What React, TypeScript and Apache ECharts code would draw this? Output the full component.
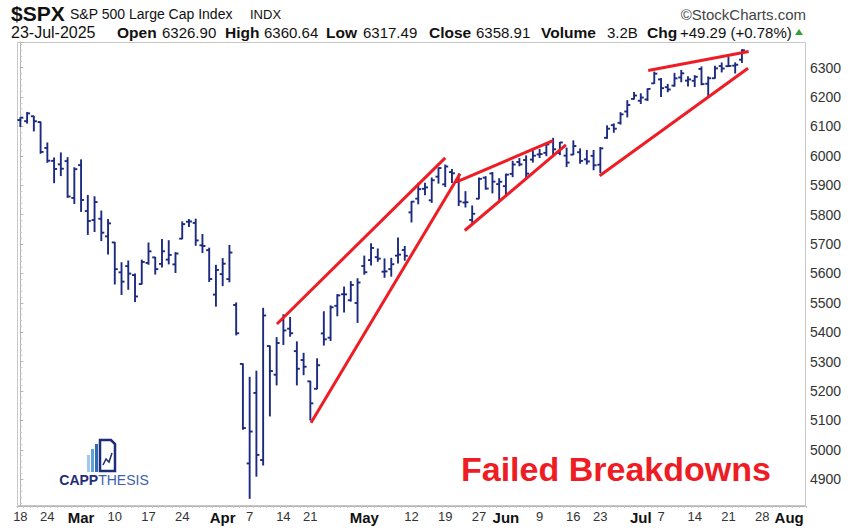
import React, { useEffect, useRef } from "react";
import * as echarts from "echarts";

const FONT = '"Liberation Sans", Arial, sans-serif';
const BAR_COLOR = "#1c2a80";
const RED = "#ee1c24";

const dates = [
  "2025-02-18","2025-02-19","2025-02-20","2025-02-21","2025-02-24","2025-02-25","2025-02-26","2025-02-27","2025-02-28",
  "2025-03-03","2025-03-04","2025-03-05","2025-03-06","2025-03-07","2025-03-10","2025-03-11","2025-03-12","2025-03-13","2025-03-14",
  "2025-03-17","2025-03-18","2025-03-19","2025-03-20","2025-03-21","2025-03-24","2025-03-25","2025-03-26","2025-03-27","2025-03-28","2025-03-31",
  "2025-04-01","2025-04-02","2025-04-03","2025-04-04","2025-04-07","2025-04-08","2025-04-09","2025-04-10","2025-04-11",
  "2025-04-14","2025-04-15","2025-04-16","2025-04-17","2025-04-21","2025-04-22","2025-04-23","2025-04-24","2025-04-25","2025-04-28","2025-04-29","2025-04-30",
  "2025-05-01","2025-05-02","2025-05-05","2025-05-06","2025-05-07","2025-05-08","2025-05-09","2025-05-12","2025-05-13","2025-05-14","2025-05-15","2025-05-16",
  "2025-05-19","2025-05-20","2025-05-21","2025-05-22","2025-05-23","2025-05-27","2025-05-28","2025-05-29","2025-05-30",
  "2025-06-02","2025-06-03","2025-06-04","2025-06-05","2025-06-06","2025-06-09","2025-06-10","2025-06-11","2025-06-12","2025-06-13",
  "2025-06-16","2025-06-17","2025-06-18","2025-06-20","2025-06-23","2025-06-24","2025-06-25","2025-06-26","2025-06-27","2025-06-30",
  "2025-07-01","2025-07-02","2025-07-03","2025-07-07","2025-07-08","2025-07-09","2025-07-10","2025-07-11",
  "2025-07-14","2025-07-15","2025-07-16","2025-07-17","2025-07-18","2025-07-21","2025-07-22","2025-07-23"
];

const futureDates = ["2025-07-24","2025-07-25","2025-07-28","2025-07-29","2025-07-30","2025-07-31","2025-08-01","2025-08-04","2025-08-05"];

const opens = [
  6121.6,6117.76,6134.5,6114.82,6026.69,5982.73,5970.87,5981.88,5856.74,
  5968.33,5811.98,5781.38,5785.87,5726.01,5705.37,5603.65,5624.84,5594.45,5563.85,
  5635.6,5654.53,5632.37,5646.92,5630.73,5718.08,5775.86,5771.66,5695.64,5679.13,5527.91,
  5597.53,5580.76,5492.74,5292.14,4953.79,5193.57,4965.28,5353.15,5255.56,
  5441.96,5411.99,5335.75,5305.45,5232.94,5207.67,5395.92,5381.38,5489.73,5529.22,5508.87,5499.44,
  5625.14,5645.39,5655.32,5605.88,5614.63,5660.4,5679.57,5807.57,5854.23,5887.69,5848.55,5929.09,
  5902.88,5944.66,5910.66,5841.26,5781.89,5854.07,5925.54,5939.92,5903.67,
  5896.68,5938.56,5978.94,5985.67,5987.06,6004.6,6009.91,6049.38,6009.9,6000.56,
  6004.0,6012.15,5987.93,5999.67,5969.67,6061.21,6104.2,6112.1,6150.7,6193.36,
  6187.25,6191.52,6246.45,6259.75,6233.44,6238.67,6266.35,6255.68,
  6255.15,6295.29,6245.02,6263.71,6305.21,6304.74,6306.6,6326.9
];

const highs = [
  6129.63,6147.43,6134.5,6114.82,6043.65,5992.65,6009.82,5993.69,5959.4,
  5986.09,5865.08,5860.59,5812.08,5783.01,5705.37,5636.3,5642.19,5597.78,5645.27,
  5703.52,5654.53,5715.33,5711.15,5670.84,5775.14,5783.71,5784.62,5732.28,5685.89,5627.56,
  5650.57,5695.31,5499.53,5292.14,5246.57,5267.47,5481.34,5353.15,5381.46,
  5459.46,5450.41,5367.24,5328.31,5232.94,5309.61,5469.69,5489.4,5528.11,5553.66,5571.95,5581.84,
  5658.91,5700.7,5683.24,5649.38,5651.18,5720.1,5691.53,5844.19,5906.63,5906.23,5924.65,5958.62,
  5968.61,5953.06,5938.37,5878.08,5829.51,5924.33,5929.0,5943.13,5922.14,
  5937.4,5981.35,5990.48,5999.7,6016.87,6021.31,6043.01,6059.4,6045.43,6026.16,
  6050.83,6023.25,6018.25,6018.2,6028.31,6101.8,6108.51,6146.52,6187.68,6215.08,
  6210.78,6227.6,6284.65,6262.93,6242.7,6280.33,6290.22,6269.19,
  6272.3,6302.04,6268.42,6304.64,6315.61,6336.08,6316.12,6360.64
];

const lows = [
  6099.51,6111.15,6084.59,6008.56,5977.83,5908.49,5932.69,5858.78,5837.66,
  5810.91,5732.59,5742.35,5711.64,5666.29,5564.02,5528.41,5546.09,5504.65,5563.85,
  5631.12,5597.76,5622.2,5632.33,5603.1,5718.08,5759.3,5695.66,5670.94,5572.42,5488.73,
  5558.52,5571.48,5390.83,5069.9,4835.04,4910.42,4948.43,5115.27,5220.77,
  5358.02,5386.44,5220.79,5255.58,5101.63,5207.67,5356.38,5371.96,5455.86,5468.64,5505.7,5433.24,
  5597.35,5628.39,5641.35,5586.83,5590.76,5635.37,5644.95,5775.01,5836.77,5867.48,5841.43,5907.06,
  5895.69,5909.26,5830.91,5825.82,5767.41,5854.07,5886.81,5873.8,5843.66,
  5861.43,5929.0,5966.11,5921.2,5978.63,5994.18,6000.26,6002.32,6003.88,5963.21,
  6004.0,5974.8,5971.89,5952.56,5943.23,6059.52,6080.09,6107.77,6132.35,6193.36,
  6177.97,6188.29,6246.45,6201.69,6217.81,6236.94,6251.95,6237.01,
  6235.4,6241.79,6201.59,6263.71,6285.27,6303.79,6281.71,6317.49
];

const closes = [
  6129.58,6144.15,6117.52,6013.13,5983.25,5955.25,5956.06,5861.57,5954.5,
  5849.72,5778.15,5842.63,5738.52,5770.2,5614.56,5572.07,5599.3,5521.52,5638.94,
  5675.12,5614.66,5675.29,5662.89,5667.56,5767.57,5776.65,5712.2,5693.31,5580.94,5611.85,
  5633.07,5670.97,5396.52,5074.08,5062.25,4982.77,5456.9,5268.05,5363.36,
  5405.97,5396.63,5275.7,5282.7,5158.2,5287.76,5375.86,5484.77,5525.21,5528.75,5560.83,5569.06,
  5604.14,5686.67,5650.38,5606.91,5631.28,5663.94,5659.91,5844.19,5886.55,5892.58,5916.93,5958.38,
  5963.6,5940.46,5844.61,5842.01,5802.82,5921.54,5888.55,5912.17,5911.69,
  5935.94,5970.37,5970.81,5939.3,6000.36,6005.88,6038.81,6022.24,6045.26,5976.97,
  6033.11,5982.72,5980.87,5967.84,6025.17,6092.18,6092.16,6141.02,6173.07,6204.95,
  6198.01,6227.42,6279.35,6229.98,6225.52,6263.26,6280.46,6259.75,
  6268.56,6243.76,6263.7,6297.36,6296.79,6305.6,6309.62,6358.91
];

// x-axis tick labels: [date, label, isMonth]
const tickLabels: [string, string, boolean][] = [
  ["2025-02-18","18",false],["2025-02-24","24",false],["2025-03-03","Mar",true],["2025-03-10","10",false],
  ["2025-03-17","17",false],["2025-03-24","24",false],["2025-04-01","Apr",true],["2025-04-07","7",false],
  ["2025-04-14","14",false],["2025-04-21","21",false],["2025-05-01","May",true],["2025-05-12","12",false],
  ["2025-05-19","19",false],["2025-05-27","27",false],["2025-06-02","Jun",true],["2025-06-09","9",false],
  ["2025-06-16","16",false],["2025-06-23","23",false],["2025-07-01","Jul",true],["2025-07-07","7",false],
  ["2025-07-14","14",false],["2025-07-21","21",false],["2025-07-28","28",false],["2025-08-01","Aug",true]
];

// trendlines: [[barIndex, price], [barIndex, price]]
const trendLines: [number, number][][] = [
  [[38.05, 5428], [63.0, 5993]],
  [[43.1, 5092], [65.2, 5939]],
  [[64.7, 5911], [79.0, 6052]],
  [[65.9, 5746], [80.9, 6037]],
  [[93.1, 6290], [108.0, 6355]],
  [[85.9, 5932], [107.9, 6298]]
];

const headerFields: [string, string][] = [
  ["Open", "6326.90"], ["High", "6360.64"], ["Low", "6317.49"], ["Close", "6358.91"],
  ["Volume", "3.2B"], ["Chg", "+49.29 (+0.78%)"]
];
const headerX: [number, number][] = [[117, 162], [225, 264], [326, 363], [429, 476], [541, 607], [647, 680]];

const categories = dates.concat(futureDates);

function txt(x: number, y: number, text: string, font: string, fill = "#111", align = "left") {
  return {
    type: "text",
    x,
    y,
    silent: true,
    style: { text, font, fill, textAlign: align, textVerticalAlign: "middle" }
  };
}

export default function App() {
  const ref = useRef<HTMLDivElement>(null);
  useEffect(() => {
    const chart = echarts.init(ref.current!, null, { renderer: "svg" });
    const labelMap = new Map<string, [string, boolean]>();
    tickLabels.forEach(([d, l, m]) => labelMap.set(d, [l, m]));
    const ohlc = dates.map((d, i) => [i, opens[i], highs[i], lows[i], closes[i]]);

    const graphics: any[] = [
      {
        type: "rect",
        z: 0,
        silent: true,
        shape: { x: 17.5, y: 42.5, width: 788, height: 463 },
        style: { fill: "none", stroke: "#c8c8c8", lineWidth: 1 }
      },
      txt(11, 13, "$SPX", `bold 21px ${FONT}`, "#111"),
      txt(70, 14, "S&P 500 Large Cap Index", `14px ${FONT}`, "#111"),
      txt(250, 14, "INDX", `13px ${FONT}`, "#111"),
      txt(806, 14, "©StockCharts.com", `15px ${FONT}`, "#444", "right"),
      txt(11, 32, "23-Jul-2025", `16px ${FONT}`, "#111"),
      {
        type: "polygon",
        silent: true,
        shape: { points: [[795, 35], [803, 35], [799, 29]] },
        style: { fill: "#35a035" }
      },
      txt(461, 469, "Failed Breakdowns", `bold 34px ${FONT}`, RED),
      // logo
      { type: "rect", silent: true, shape: { x: 87, y: 455, width: 3, height: 17 }, style: { fill: "#a4c8ea" } },
      { type: "rect", silent: true, shape: { x: 91, y: 449, width: 3, height: 23 }, style: { fill: "#62a0d8" } },
      { type: "rect", silent: true, shape: { x: 95, y: 444, width: 3, height: 28 }, style: { fill: "#2f6cb6" } },
      {
        type: "polygon",
        silent: true,
        shape: { points: [[100, 440], [111, 440], [115, 444], [115, 471], [100, 471]] },
        style: { fill: "none", stroke: "#1f2d78", lineWidth: 2.5 }
      },
      {
        type: "polyline",
        silent: true,
        shape: { points: [[103, 465], [106, 459], [109, 462], [112, 453]] },
        style: { stroke: "#1f2d78", lineWidth: 1.5, fill: "none" }
      },
      {
        type: "text",
        x: 104,
        y: 480,
        silent: true,
        style: {
          text: "{a|CAPP}{b|THESIS}",
          textAlign: "center",
          textVerticalAlign: "middle",
          rich: {
            a: { font: `bold 14px ${FONT}`, fill: "#1f2d78" },
            b: { font: `14px ${FONT}`, fill: "#3d5fae" }
          }
        }
      }
    ];
    headerFields.forEach(([label, value], i) => {
      graphics.push(txt(headerX[i][0], 32, label, `bold 15.5px ${FONT}`, "#111"));
      graphics.push(txt(headerX[i][1], 32, value, `15px ${FONT}`, "#111"));
    });

    const option: any = {
      animation: false,
      backgroundColor: "#ffffff",
      grid: { left: 17, right: 44, top: 42, bottom: 22, containLabel: false },
      xAxis: [
        {
          type: "category",
          data: categories,
          boundaryGap: true,
          axisLine: { show: true, lineStyle: { color: "#b4b4b4", width: 1 } },
          axisTick: { show: true, interval: 0, length: 2, lineStyle: { color: "#c4c4c4" } },
          splitLine: { show: false },
          axisLabel: {
            interval: (_i: number, v: string) => labelMap.has(v),
            formatter: (v: string) => {
              const e = labelMap.get(v);
              if (!e) return "";
              return e[1] ? `{m|${e[0]}}` : `{d|${e[0]}}`;
            },
            margin: 4,
            rich: {
              d: { fontSize: 13, color: "#333", fontFamily: FONT },
              m: { fontSize: 15, fontWeight: "bold", color: "#111", fontFamily: FONT }
            }
          }
        },
        { type: "value", min: -0.5, max: 116.5, show: false, gridIndex: 0 }
      ],
      yAxis: {
        type: "value",
        position: "right",
        min: 4809,
        max: 6387,
        splitNumber: 16,
        axisLine: { show: true, lineStyle: { color: "#b4b4b4", width: 1 } },
        axisTick: { show: true, length: 3, lineStyle: { color: "#b4b4b4" } },
        minorTick: { show: true, splitNumber: 5, length: 2, lineStyle: { color: "#cccccc" } },
        splitLine: { show: false },
        axisLabel: {
          formatter: (v: number) => (Math.round(v) % 100 === 0 ? String(Math.round(v)) : ""),
          margin: 4,
          fontSize: 14,
          color: "#333",
          fontFamily: FONT
        }
      },
      graphic: graphics,
      series: [
        {
          type: "custom",
          xAxisIndex: 0,
          yAxisIndex: 0,
          data: ohlc,
          encode: { x: 0, y: [1, 2, 3, 4] },
          z: 2,
          silent: true,
          renderItem: (_p: any, api: any) => {
            const i = api.value(0);
            const pH = api.coord([i, api.value(2)]);
            const pL = api.coord([i, api.value(3)]);
            const pO = api.coord([i, api.value(1)]);
            const pC = api.coord([i, api.value(4)]);
            const w = 3;
            const st = { stroke: BAR_COLOR, lineWidth: 1.9 };
            return {
              type: "group",
              children: [
                { type: "line", shape: { x1: pH[0], y1: pH[1] - 0.5, x2: pL[0], y2: pL[1] + 0.5 }, style: st },
                { type: "line", shape: { x1: pO[0] - w, y1: pO[1], x2: pO[0], y2: pO[1] }, style: st },
                { type: "line", shape: { x1: pC[0], y1: pC[1], x2: pC[0] + w, y2: pC[1] }, style: st }
              ]
            };
          }
        },
        ...trendLines.map((seg) => ({
          type: "line",
          xAxisIndex: 1,
          yAxisIndex: 0,
          data: seg,
          symbol: "none",
          silent: true,
          z: 3,
          lineStyle: { color: RED, width: 3 }
        }))
      ]
    };
    chart.setOption(option);
    return () => chart.dispose();
  }, []);
  return (
    <div
      ref={ref}
      style={{ position: "fixed", left: 0, top: 0, width: 850, height: 528, background: "#fff" }}
    />
  );
}
